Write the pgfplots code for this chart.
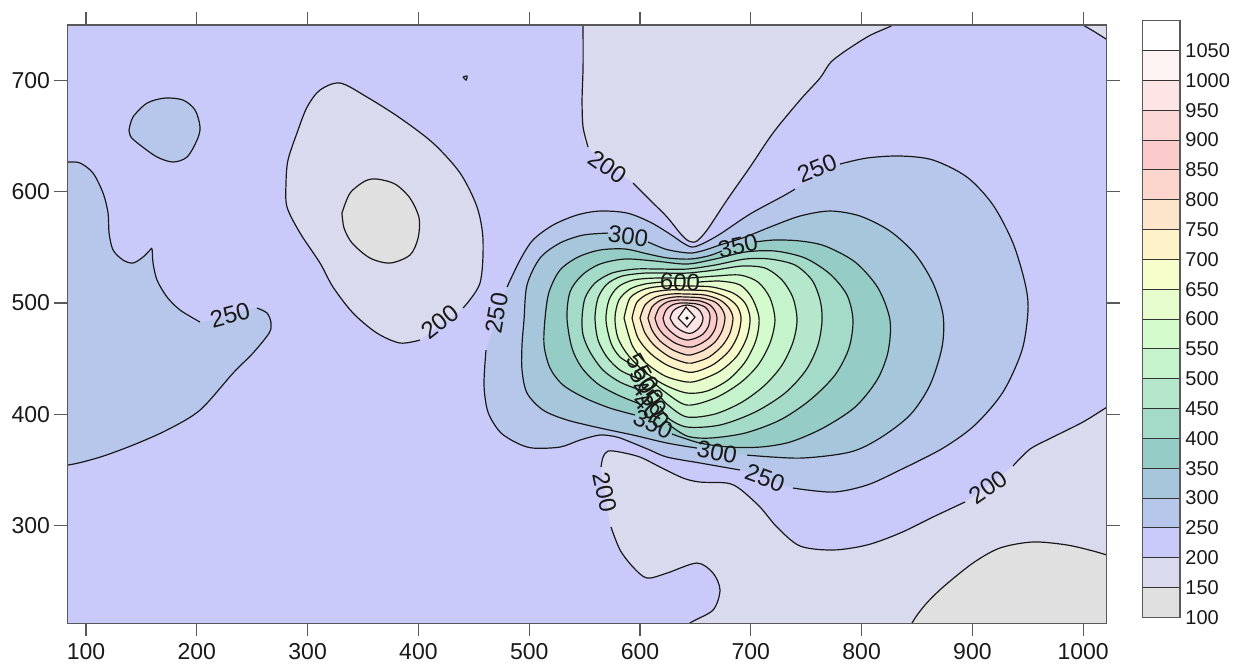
\documentclass[border=0pt]{standalone}
\usepackage{fontspec}
\setmainfont{Liberation Sans}
\usepackage{pgfplots}
\usepackage{pgfplotstable}
\pgfplotsset{compat=1.18}
\definecolor{c100}{HTML}{E0E0E0}
\definecolor{c150}{HTML}{DADAEE}
\definecolor{c200}{HTML}{CACAFA}
\definecolor{c250}{HTML}{B7C7EC}
\definecolor{c300}{HTML}{A6C6DB}
\definecolor{c350}{HTML}{96CCC6}
\definecolor{c400}{HTML}{A4DAC8}
\definecolor{c450}{HTML}{B4E7CB}
\definecolor{c500}{HTML}{C4F3CC}
\definecolor{c550}{HTML}{D4FBCC}
\definecolor{c600}{HTML}{E6FCCC}
\definecolor{c650}{HTML}{F8FDCC}
\definecolor{c700}{HTML}{FDF2C8}
\definecolor{c750}{HTML}{FDE5CC}
\definecolor{c800}{HTML}{FCD6CC}
\definecolor{c850}{HTML}{FBCBCB}
\definecolor{c900}{HTML}{FCD7D7}
\definecolor{c950}{HTML}{FDE5E5}
\definecolor{c1000}{HTML}{FEF4F4}
\definecolor{c1050}{HTML}{FFFFFF}

% ---------- contour geometry (data units) ----------
\pgfplotstableread{
x y
58.5 626.5
82.9 626.5
94.6 625.6
106.3 616.6
115.4 598.6
119.9 580.7
120.8 562.7
124.4 547.5
133.4 538.5
142.4 535.8
151.5 541.2
157.8 547.5
159.6 548.4
160.5 535.8
164.1 520.5
173.1 505.3
184.9 493.6
202.9 482.8
nan nan
254.3 495.4
263.4 490.9
267 481.9
265.2 472.9
250.7 455
232.7 437
202.9 403.8
173.1 385.9
142.4 372.4
112.7 361.6
83.8 354.5
58.5 354.5
}\tA
\pgfplotstableread{
x y
138.8 655.2
142.4 666.9
155.1 679.4
171.3 683.9
187.6 682.1
198.4 673.2
202.9 657.9
200.2 646.2
191.2 631
178.5 626.5
164.1 631
148.8 641.7
140.6 648.9
138.8 655.2
}\tB
\pgfplotstableread{
x y
401.5 466.7
383.4 464
362.6 472.9
341 490.9
322.9 514.3
311.2 535.8
293.2 562.7
281.4 586.1
280.5 607.6
282.3 628.3
290.4 652.5
299.5 675.8
311.2 691.1
329.3 697.4
353.6 684.8
383.4 666
413.2 643.5
437.6 616.6
452.9 586.1
458.3 556.5
455.6 517.9
440.3 495.4
}\tIs
\pgfplotstableread{
x y
331 580.7
338.3 598.6
351.8 609.4
362.6 611.2
378.9 606.7
392.4 594.1
400.6 576.2
399.7 558.3
392.4 543
374.4 535.8
356.3 540.3
340.1 553.8
332.9 567.2
331 580.7
}\tGi
\pgfplotstableread{
x y
440.3 702.8
443.9 703.7
443 700.1
440.3 702.8
}\tTi
\pgfplotstableread{
x y
548.6 789.9
548.6 749.5
548.6 711.8
547.7 682.1
548.6 657.9
553.1 639.9
nan nan
593.7 607.6
609 592.4
624.4 577.1
636.1 562.7
642.4 556.5
646.9 554.7
651.4 555.6
660.5 565.4
678.5 592.4
699.3 622
720 652.5
744.4 682.1
762.5 701.9
774.2 718
804.9 738.7
828.3 749.5
839.2 758.4
839.2 789.9
}\tD
\pgfplotstableread{
x y
992.6 758.4
999.8 749.5
1010.6 743.2
1020.6 736.9
1028.7 731.5
1042.2 731.5
1042.2 789.9
992.6 789.9
}\tCo
\pgfplotstableread{
x y
1037.7 416.4
1021.5 406.5
999.8 393.1
972.7 379.6
952 368.8
936.6 353.6
nan nan
893.3 321.3
864.4 307.8
834.7 293.4
804.9 282.7
774.2 278.2
744.4 281.8
723.6 298.8
708.3 316.8
690.3 332.9
678.5 338.3
654.2 339.2
638.8 342.8
618.1 352.7
600 361.6
582 366.1
571.1 367
566.6 361.6
564.8 352.7
nan nan
573.8 298.8
582 278.2
593.7 262.9
606.3 253
624.4 257.5
651.4 266.5
665.9 257.5
672.2 242.3
665.9 224.3
645.1 212.6
627.1 197.4
1042.2 197.4
}\tE
\pgfplotstableread{
x y
834.7 188.4
845.5 212.6
857.2 228.8
873.5 244.9
900.5 266.5
924.9 280
954.7 285.4
985.4 282.7
1008.9 277.3
1021.5 273.7
1037.7 269.2
1042.2 188.4
}\tF
% 250
\pgfplotstableread{
x y
480 514.3
491.7 538.5
503.4 556.5
521.5 569.9
543.1 578.9
563.9 582.5
588.3 580.7
609 572.6
627.1 561.8
638.8 553.8
646.9 550.2
655.9 552.9
672.2 561.8
699.3 579.8
729.1 595.9
739.9 602.2
nan nan
780.5 624.7
804.9 630.1
834.7 631.9
864.4 628.3
895.1 613
918.6 587.9
936.6 553.8
947.5 517.8
950.2 493.6
944.8 457.7
927.6 420
902.3 390.4
873.5 369.7
834.7 350
804.9 336.5
774.2 330.2
738.1 333.8
nan nan
690.3 350
654.2 356.3
624.4 361.6
609 367.9
593.7 374.2
579.2 379.6
563.9 381.4
545.9 376.9
527.8 370.6
503.4 369.7
489 374.2
473.7 384.1
462.8 402
459.2 426.3
461 457.7
}\tPa
% 300
\pgfplotstableread{
x y
607.2 554.7
622.6 548.4
636.1 545.7
646.9 544.8
658.7 547.5
672.2 552
694.8 559.1
717.3 568.1
744.4 578
771.5 582.5
798.6 578
825.6 564.5
848.2 543.9
864.4 517.9
873.5 489.1
872.6 460.4
861.7 426.3
843.7 399.4
816.6 378.7
789.5 366.1
744.4 360.7
696.6 363.4
nan nan
651.4 369.7
624.4 374.2
593.7 381.4
563.9 387.7
534.1 394.9
512.5 403.8
498 419.1
493.5 439.7
493.5 462.2
495.3 484.6
498 516.1
509.8 540.3
527.8 553.8
548.6 560.9
571.1 562.7
}\tPb
% 350
\pgfplotstableread{
x y
703.8 554.7
721.8 556.5
744.4 555.6
767 551.1
794.1 536.7
814.8 513.4
825.6 484.6
823.8 455.9
813.9 430.8
794.1 406.5
765.2 387.7
735.4 375.1
708.3 370.6
681.2 370.6
654.2 374.2
628.9 382.3
nan nan
595.5 399.4
572.9 405.6
550.4 414.6
530.5 426.3
518.8 441.5
513.4 462.2
514.3 486.4
517.9 509.8
527.8 529.5
544.1 541.2
563.9 547.5
586.5 548.4
607.2 543.9
625.3 540.3
645.1 539.4
661.4 542.1
674 546.6
}\tPc
% 400
\pgfplotstableread{
x y
600 409.2
580.1 417.3
562.1 427.2
547.7 441.5
538.6 459.5
534.1 486.4
536.8 509.8
547.7 525
563.9 534.9
586.5 539.4
613.5 537.6
642.4 534.9
667.7 539.4
694.8 545.7
721.8 546.6
748.9 540.3
771.5 525.9
786.8 507.1
792.2 484.6
788.6 459.5
776 435.3
753.4 412.8
726.4 394.9
694.8 383.2
663.2 378.7
642.4 380.5
625.3 391.3
}\tPd
% 450
\pgfplotstableread{
x y
600 421.8
582 428.9
566.6 439.7
554.9 455.9
548.6 471.2
547.7 486.4
550.4 504.4
559.4 517.9
574.7 526.8
595.5 530.4
618.1 530.4
642.4 530.4
667.7 534
694.8 539.4
717.3 539.4
739.9 534
755.2 520.5
762.5 502.6
764.3 484.6
760.6 462.2
749.8 439.7
730.9 419.1
703.8 402
672.2 390.4
642.4 388.6
625.3 396.7
618.1 407.4
}\tPe
% 500
\pgfplotstableread{
x y
597.3 432.6
582 439.7
570.2 451.4
562.1 466.7
559.4 486.4
562.1 504.4
570.2 516.9
583.8 524.1
604.5 526.8
622.6 526.8
642.4 526.8
667.7 529.5
692.1 533.1
712.8 531.3
728.2 520.5
738.1 504.4
741.7 484.6
738.1 464.9
728.2 444.2
712.8 426.3
692.1 411
667.7 400.3
642.4 397.6
625.3 408.3
615.3 419.1
}\tPf
% 550
\pgfplotstableread{
x y
595.5 443.3
582 451.4
573.8 464
569.3 484.6
572 502.6
580.1 514.3
593.7 520.5
613.5 522.3
642.4 522.3
667.7 524.1
690.3 525
706.5 518.7
717.3 504.4
721.8 484.6
717.3 464
706.5 444.2
690.3 428.1
667.7 414.6
642.4 408.3
622.6 420
611.7 429
}\tPg
% 600
\pgfplotstableread{
x y
652.3 518.7
672.2 519.6
690.3 516.1
701.1 504.4
707.4 486.4
704.7 466.7
694.8 446.9
679.4 430.8
660.5 420.9
642.4 419.1
622.6 426.3
604.5 437.9
589.2 453.2
580.1 468.5
577.4 486.4
581 502.6
591 512.5
604.5 517
619.9 518.7
}\tPh
% 650
\pgfplotstableread{
x y
585.6 486.4
591 504.4
604.5 512.5
622.6 515.2
642.4 515.2
665 514.3
683.9 508.9
694.8 499.9
699.3 486.4
696.6 469.4
687.5 452.3
672.2 438.8
654.2 430.8
642.4 429
622.6 434.4
604.5 446.9
592.8 462.2
585.6 486.4
}\tPi
% 700
\pgfplotstableread{
x y
592.8 486.4
597.3 500.8
609 508.9
625.3 511.6
642.4 511.6
661.4 510.7
677.6 505.3
687.5 497.2
691.2 486.4
688.4 471.2
680.3 456.8
666.8 445.1
652.3 438.8
642.4 438
624.4 444.2
609 455
598.2 468.5
592.8 486.4
}\tPj
% 750
\pgfplotstableread{
x y
600 486.4
604.5 498.1
614.4 505.3
628 508
642.4 508
658.7 507.1
672.2 502.6
680.3 495.4
683.9 486.4
681.2 473
674 461.3
662.3 451.4
650.5 446.9
642.4 446
627.1 451.4
613.5 461.3
604.5 473
600 486.4
}\tPk
% 800
\pgfplotstableread{
x y
607.2 486.4
610.8 496.3
619 502.6
630.7 505.3
642.4 505.3
655.9 504.4
667.7 500.8
674 494.5
676.7 486.4
674 474.8
667.7 464.9
657.8 457.7
648.7 454.1
642.4 453.2
629.8 457.7
618.1 465.8
610.8 475.7
607.2 486.4
}\tPl
% 850
\pgfplotstableread{
x y
613.5 486.4
617.2 495.4
624.4 500.8
633.4 502.6
642.4 502.6
654.2 501.7
663.2 498.1
667.7 492.7
669.5 486.4
667.7 476.6
662.3 468.5
654.2 463.1
646.9 460.4
642.4 460.4
631.6 464
621.7 471.2
616.2 478.3
613.5 486.4
}\tPm
% 900
\pgfplotstableread{
x y
620.8 486.4
623.5 493.6
628.9 498.1
636.1 499.9
642.4 499.9
651.4 499
658.7 496.3
662.3 491.8
663.2 486.4
661.4 478.3
656.9 472.1
650.5 468.5
642.4 466.7
634.3 469.4
627.1 474.8
622.6 480.1
620.8 486.4
}\tPn
% 950
\pgfplotstableread{
x y
627.1 486.4
629.8 492.7
635.2 496.3
642.4 498.1
649.6 496.3
654.2 492.7
656.9 486.4
655.1 480.1
651.4 475.7
646.9 473
642.4 473
636.1 475.7
630.7 480.1
627.1 486.4
}\tPo
% 1000
\pgfplotstableread{
x y
634.3 486.4
641.5 496.3
649.6 487.3
642.4 478.3
634.3 486.4
}\tPp

\pgfplotsset{
  fl/.style={draw=none, smooth, forget plot},
  cl/.style={draw=black!90, line width=0.6pt, smooth, unbounded coords=jump, forget plot},
}
\newcommand{\lab}[4]{\node[rotate=#3, font=\fontsize{12}{12}\selectfont, text=black!90, inner sep=0pt] at (axis cs:#1,#2) {#4};}

\begin{document}
\begin{tikzpicture}
\useasboundingbox (-33.65pt,-21.35pt) rectangle (589.35pt,311.65pt);
\begin{axis}[
  name=main, at={(0,0)}, anchor=south west,
  scale only axis, width=519.7pt, height=299.15pt,
  xmin=83.1, xmax=1021.2, ymin=212.4, ymax=749.5,
  xtick={100,200,...,1000}, ytick={300,400,...,700},
  xtick pos=both, ytick pos=both, tick align=outside,
  major tick length=6.5pt,
  tick style={draw=black!65, line width=0.6pt},
  axis line style={draw=black!65, line width=0.7pt},
  ticklabel style={font=\fontsize{11.5}{12}\selectfont, text=black!90},
  /pgf/number format/assume math mode=true,
  /pgf/number format/1000 sep={},
  yticklabel style={inner xsep=2pt},
  axis background/.style={fill=c200},
  axis on top,
]
% ---- fills ----
\addplot[fl, fill=c150] table {\tD} -- cycle;
\addplot[fl, fill=c150, sharp plot] table {\tCo} -- cycle;
\addplot[fl, fill=c150] table {\tIs} -- cycle;
\addplot[fl, fill=c100] table {\tGi} -- cycle;
\addplot[fl, fill=c150] table {\tE} -- cycle;
\addplot[fl, fill=c100] table {\tF} -- cycle;
\addplot[fl, fill=c250] table {\tA} -- cycle;
\addplot[fl, fill=c250] table {\tB} -- cycle;
\addplot[fl, fill=c250] table {\tPa} -- cycle;
\addplot[fl, fill=c300] table {\tPb} -- cycle;
\addplot[fl, fill=c350] table {\tPc} -- cycle;
\addplot[fl, fill=c400] table {\tPd} -- cycle;
\addplot[fl, fill=c450] table {\tPe} -- cycle;
\addplot[fl, fill=c500] table {\tPf} -- cycle;
\addplot[fl, fill=c550] table {\tPg} -- cycle;
\addplot[fl, fill=c600] table {\tPh} -- cycle;
\addplot[fl, fill=c650] table {\tPi} -- cycle;
\addplot[fl, fill=c700] table {\tPj} -- cycle;
\addplot[fl, fill=c750] table {\tPk} -- cycle;
\addplot[fl, fill=c800] table {\tPl} -- cycle;
\addplot[fl, fill=c850] table {\tPm} -- cycle;
\addplot[fl, fill=c900] table {\tPn} -- cycle;
\addplot[fl, fill=c950] table {\tPo} -- cycle;
\addplot[fl, fill=c1000, sharp plot] table {\tPp} -- cycle;
% ---- lines ----
\addplot[cl] table {\tD};
\addplot[cl, sharp plot] table {\tCo};
\addplot[cl] table {\tIs};
\addplot[cl] table {\tGi};
\addplot[cl] table {\tTi};
\addplot[cl] table {\tE};
\addplot[cl] table {\tF};
\addplot[cl] table {\tA};
\addplot[cl] table {\tB};
\addplot[cl] table {\tPa};
\addplot[cl] table {\tPb};
\addplot[cl] table {\tPc};
\addplot[cl] table {\tPd};
\addplot[cl] table {\tPe};
\addplot[cl] table {\tPf};
\addplot[cl] table {\tPg};
\addplot[cl] table {\tPh};
\addplot[cl] table {\tPi};
\addplot[cl] table {\tPj};
\addplot[cl] table {\tPk};
\addplot[cl] table {\tPl};
\addplot[cl] table {\tPm};
\addplot[cl] table {\tPn};
\addplot[cl] table {\tPo};
\addplot[cl, sharp plot] table {\tPp};
\addplot[only marks, mark=*, mark size=0.6pt, black, forget plot] coordinates {(642.4,486.4)};
% ---- labels ----
\lab{230}{489.1}{15}{250}
\lab{419.5}{482.8}{38}{200}
\lab{470.9}{490.9}{80}{250}
\lab{571.1}{622}{-35}{200}
\lab{589.2}{560}{-8}{300}
\lab{688.4}{551.1}{12}{350}
\lab{759.8}{621.1}{22}{250}
\lab{636.1}{518.7}{-3}{600}
\lab{602.7}{437.1}{-60}{550}
\lab{606.3}{425.4}{-55}{500}
\lab{609}{414.6}{-50}{450}
\lab{610.8}{402.9}{-45}{400}
\lab{611.7}{391.3}{-25}{350}
\lab{669.5}{366.1}{-10}{300}
\lab{712.8}{342.8}{-20}{250}
\lab{568.4}{330.2}{-78}{200}
\lab{914}{334.7}{35}{200}
\end{axis}
% ---- colour scale ----
\begin{axis}[
  at={(537.7pt,3pt)}, anchor=south west,
  scale only axis, width=18.65pt, height=298.3pt,
  xmin=0, xmax=1, ymin=100, ymax=1100,
  xtick=\empty, ytick={100,150,...,1050},
  yticklabel pos=right, major tick length=0pt,
  ytick style={draw=none},
  axis line style={draw=black!65, line width=0.7pt},
  ticklabel style={font=\fontsize{10}{10}\selectfont, text=black!90},
  /pgf/number format/assume math mode=true,
  /pgf/number format/1000 sep={},
  yticklabel style={inner xsep=2.5pt},
  axis on top,
]
\addplot[fill=c100, draw=black!80] coordinates {(0,100)(1,100)(1,150)(0,150)} -- cycle;
\addplot[fill=c150, draw=black!80] coordinates {(0,150)(1,150)(1,200)(0,200)} -- cycle;
\addplot[fill=c200, draw=black!80] coordinates {(0,200)(1,200)(1,250)(0,250)} -- cycle;
\addplot[fill=c250, draw=black!80] coordinates {(0,250)(1,250)(1,300)(0,300)} -- cycle;
\addplot[fill=c300, draw=black!80] coordinates {(0,300)(1,300)(1,350)(0,350)} -- cycle;
\addplot[fill=c350, draw=black!80] coordinates {(0,350)(1,350)(1,400)(0,400)} -- cycle;
\addplot[fill=c400, draw=black!80] coordinates {(0,400)(1,400)(1,450)(0,450)} -- cycle;
\addplot[fill=c450, draw=black!80] coordinates {(0,450)(1,450)(1,500)(0,500)} -- cycle;
\addplot[fill=c500, draw=black!80] coordinates {(0,500)(1,500)(1,550)(0,550)} -- cycle;
\addplot[fill=c550, draw=black!80] coordinates {(0,550)(1,550)(1,600)(0,600)} -- cycle;
\addplot[fill=c600, draw=black!80] coordinates {(0,600)(1,600)(1,650)(0,650)} -- cycle;
\addplot[fill=c650, draw=black!80] coordinates {(0,650)(1,650)(1,700)(0,700)} -- cycle;
\addplot[fill=c700, draw=black!80] coordinates {(0,700)(1,700)(1,750)(0,750)} -- cycle;
\addplot[fill=c750, draw=black!80] coordinates {(0,750)(1,750)(1,800)(0,800)} -- cycle;
\addplot[fill=c800, draw=black!80] coordinates {(0,800)(1,800)(1,850)(0,850)} -- cycle;
\addplot[fill=c850, draw=black!80] coordinates {(0,850)(1,850)(1,900)(0,900)} -- cycle;
\addplot[fill=c900, draw=black!80] coordinates {(0,900)(1,900)(1,950)(0,950)} -- cycle;
\addplot[fill=c950, draw=black!80] coordinates {(0,950)(1,950)(1,1000)(0,1000)} -- cycle;
\addplot[fill=c1000, draw=black!80] coordinates {(0,1000)(1,1000)(1,1050)(0,1050)} -- cycle;
\addplot[fill=c1050, draw=black!80] coordinates {(0,1050)(1,1050)(1,1100)(0,1100)} -- cycle;
\end{axis}
\end{tikzpicture}
\end{document}
